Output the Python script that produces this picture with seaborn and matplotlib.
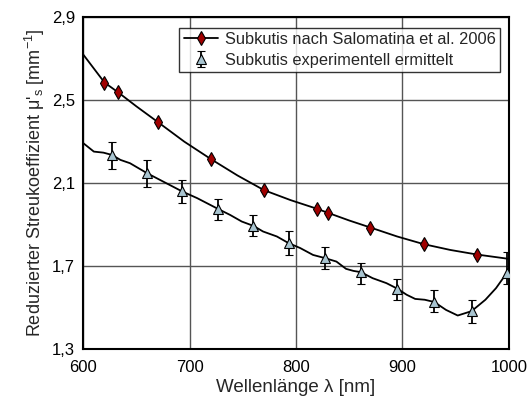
import numpy as np
import pandas as pd
import matplotlib
matplotlib.use("Agg")
import matplotlib.pyplot as plt
import seaborn as sns
from matplotlib.ticker import FuncFormatter
from matplotlib.lines import Line2D

# Salomatina et al. 2006 (markers)
sal_wl = [620, 633, 670, 720, 770, 820, 830, 870, 920, 970]
sal_mu = [2.585, 2.537, 2.395, 2.216, 2.066, 1.976, 1.957, 1.886, 1.806, 1.756]
# Salomatina curve
sal_curve_wl = [600, 620, 633, 650, 670, 695, 720, 745, 770, 795, 820, 830, 850, 870, 895, 920, 945, 970, 1000]
sal_curve_mu = [2.72, 2.585, 2.537, 2.47, 2.395, 2.300, 2.216, 2.137, 2.066, 2.018, 1.976, 1.957, 1.920, 1.886, 1.843, 1.806, 1.778, 1.756, 1.735]

# experiment: markers with error bars
exp_wl = [627, 660, 693, 727, 760, 793, 827, 861, 895, 930, 965, 998]
exp_mu = [2.236, 2.148, 2.060, 1.975, 1.894, 1.811, 1.739, 1.671, 1.592, 1.527, 1.483, 1.666]
exp_err_lo = [0.066, 0.066, 0.058, 0.053, 0.051, 0.057, 0.055, 0.055, 0.053, 0.049, 0.055, 0.050]
exp_err_hi = [0.060, 0.064, 0.056, 0.049, 0.053, 0.056, 0.053, 0.043, 0.048, 0.059, 0.053, 0.104]
# experiment: measured curve
exp_curve_wl = [600, 610, 619, 627, 635, 644, 660, 672, 693, 707, 727, 738, 749, 760, 769, 782,
                793, 804, 816, 827, 838, 847, 854, 861, 872, 885, 895, 904, 912, 921, 930, 941,
                952, 965, 978, 988, 998, 1000]
exp_curve_mu = [2.293, 2.252, 2.247, 2.236, 2.212, 2.196, 2.148, 2.116, 2.060, 2.028, 1.975, 1.947,
                1.915, 1.894, 1.867, 1.843, 1.811, 1.787, 1.754, 1.739, 1.722, 1.687, 1.677, 1.671,
                1.642, 1.618, 1.592, 1.562, 1.542, 1.538, 1.527, 1.489, 1.462, 1.483, 1.538, 1.594,
                1.666, 1.690]

sns.set_theme(style="white")
plt.rcParams["font.family"] = ["Liberation Sans", "DejaVu Sans"]
plt.rcParams["mathtext.fontset"] = "custom"
plt.rcParams["mathtext.rm"] = "Liberation Sans"
plt.rcParams["mathtext.it"] = "Liberation Sans"

red = "#a00000"
blue = "#a8c4d0"

fig, ax = plt.subplots(figsize=(5.3, 3.99), dpi=100)
fig.subplots_adjust(left=0.157, right=0.960, bottom=0.125, top=0.957)

sns.lineplot(x=sal_curve_wl, y=sal_curve_mu, color="black", lw=1.3, ax=ax, zorder=3)
sns.lineplot(x=sal_wl, y=sal_mu, color="black", lw=0, marker="d", markersize=7.2,
             markerfacecolor=red, markeredgecolor="black", markeredgewidth=0.8, ax=ax, zorder=4)
sns.lineplot(x=exp_curve_wl, y=exp_curve_mu, color="black", lw=1.3, ax=ax, zorder=3)
eb = ax.errorbar(exp_wl, exp_mu, yerr=[exp_err_lo, exp_err_hi], fmt="^", color="black",
                 markerfacecolor=blue, markeredgecolor="black", markeredgewidth=0.8, markersize=6.5,
                 ecolor="black", elinewidth=1.3, capsize=3.2, capthick=1.3, zorder=5)

h1 = Line2D([], [], color="black", lw=1.3, marker="d", markersize=7.2,
            markerfacecolor=red, markeredgecolor="black", markeredgewidth=0.8)
leg = ax.legend([h1, eb], ["Subkutis nach Salomatina et al. 2006", "Subkutis experimentell ermittelt"],
                loc="upper right", bbox_to_anchor=(0.98, 0.967), fontsize=11.8, frameon=True,
                fancybox=False, edgecolor="black", handlelength=2.1, borderpad=0.25,
                labelspacing=0.35, handletextpad=0.45, borderaxespad=0)
leg.get_frame().set_linewidth(1.0)

ax.set_xlim(600, 1000)
ax.set_ylim(1.3, 2.9)
ax.set_xticks([600, 700, 800, 900, 1000])
ax.set_yticks([1.3, 1.7, 2.1, 2.5, 2.9])
ax.yaxis.set_major_formatter(FuncFormatter(lambda v, p: f"{v:.1f}".replace(".", ",")))
ax.grid(True, color="#555555", lw=1.0)
for s in ax.spines.values():
    s.set_color("black")
    s.set_linewidth(1.5)
ax.tick_params(direction="in", length=4, width=1.2, labelsize=12, colors="black",
               top=False, right=False)
ax.tick_params(axis="x", pad=8)
ax.tick_params(axis="y", pad=6)
ax.set_xlabel("Wellenlänge λ [nm]", fontsize=13.5, labelpad=3)
ax.set_ylabel("Reduzierter Streukoeffizient μ'$_{\\mathrm{s}}$ [mm$^{-1}$]", fontsize=13, labelpad=3)

fig.savefig("out.png", dpi=100)
